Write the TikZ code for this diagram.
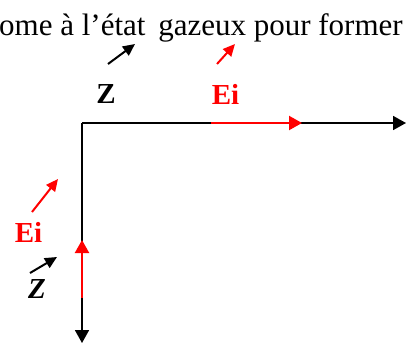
\documentclass[tikz,border=0pt]{standalone}
\usepackage{fontspec}
\setmainfont{Liberation Serif}
\usetikzlibrary{arrows.meta}
\tikzset{
	axe/.style={line width=1.8pt, -{Triangle[length=13pt,width=14pt]}},
	vec/.style={line width=2pt, -{Triangle[length=12pt,width=11pt]}},
	lbl/.style={inner sep=0pt, anchor=base, font=\fontsize{29}{30}\selectfont\bfseries}
}
\begin{document}
\begin{tikzpicture}[x=1pt, y=-1pt]
			\useasboundingbox (0,0) rectangle (406,343);
			\path (82,123) coordinate (O)
			(406,123) coordinate (X)
			(82,343)  coordinate (Y)
			(211,123) coordinate (H_1)
			(302,123) coordinate (H_2)
			(82,298)  coordinate (V_1)
			(82,240)  coordinate (V_2)
			(108,64)  coordinate (Z_1) (135,44) coordinate (Z_2)
			(217,64)  coordinate (E_1) (235,44) coordinate (E_2)
			(32,212)  coordinate (E_3) (58,179) coordinate (E_4)
			(30,273)  coordinate (Z_3) (57,257) coordinate (Z_4);
			\node[anchor=base west, inner sep=0pt, font=\fontsize{31}{37}\selectfont] (texte) at (-1,35) {ome à l’état\hspace{5pt} gazeux pour former};
			\draw[axe] (O) -- (X);
			\draw[axe] (O) -- (Y);
			\draw[axe, red, line width=2.2pt] (H_1) -- (H_2);
			\draw[axe, red, line width=2.2pt] (V_1) -- (V_2);
			\draw[vec] (Z_1) -- (Z_2);
			\draw[vec] (Z_3) -- (Z_4);
			\draw[vec, red] (E_1) -- (E_2);
			\draw[vec, red] (E_3) -- (E_4);
			\node[lbl] (z_haut) at (106,103) {Z};
			\node[lbl, red] (ei_haut) at (225.5,104) {Ei};
			\node[lbl, red] (ei_gauche) at (28.5,242) {Ei};
			\node[lbl, font=\fontsize{29}{30}\selectfont\bfseries\itshape] (z_bas) at (37,298) {Z};
		\end{tikzpicture}
\end{document}
